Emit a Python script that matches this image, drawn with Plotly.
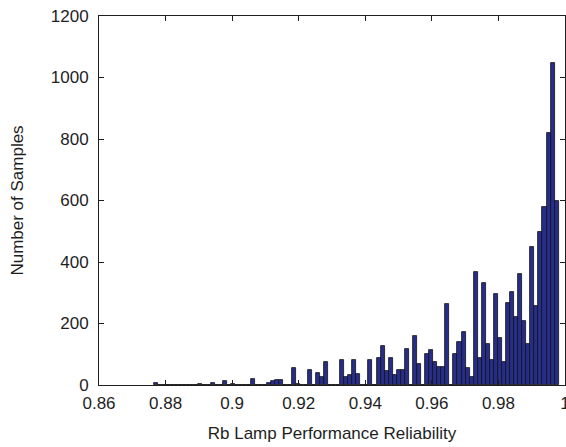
import numpy as np
import plotly.graph_objects as go

# Histogram of reliability samples: 100 equal-width bins between the
# smallest and largest sampled reliability value.
bin_min = 0.8765
bin_max = 0.9981
counts = [
    5, 0, 0, 0, 0, 0, 0, 0, 0, 0,
    0, 2, 0, 0, 5, 0, 0, 13, 0, 2,
    0, 0, 0, 0, 20, 0, 0, 0, 5, 12,
    16, 16, 0, 0, 55, 4, 0, 0, 48, 0,
    40, 26, 75, 0, 0, 0, 80, 26, 32, 80,
    36, 0, 0, 80, 0, 88, 126, 46, 87, 32,
    50, 50, 116, 0, 159, 67, 0, 102, 114, 74,
    60, 57, 263, 0, 102, 141, 171, 56, 27, 369,
    89, 331, 133, 81, 296, 152, 74, 268, 301, 221,
    362, 208, 133, 450, 257, 499, 580, 818, 1046, 600,
]

x_ticks = [0.86, 0.88, 0.9, 0.92, 0.94, 0.96, 0.98, 1.0]
x_tick_text = ["0.86", "0.88", "0.9", "0.92", "0.94", "0.96", "0.98", "1"]
y_ticks = [0, 200, 400, 600, 800, 1000, 1200]

edges = np.linspace(bin_min, bin_max, len(counts) + 1)
centers = (edges[:-1] + edges[1:]) / 2
width = edges[1] - edges[0]

font = "Liberation Sans, Arial, Helvetica, sans-serif"
ink = "#1e1e1e"
fsize = 17

fig = go.Figure(
    go.Bar(
        x=centers,
        y=counts,
        width=width,
        marker=dict(color="#272d8a", line=dict(color="#111111", width=0.8)),
        hoverinfo="x+y",
    )
)

axis_common = dict(
    showline=True,
    linecolor=ink,
    linewidth=1,
    mirror="ticks",
    ticks="inside",
    ticklen=5,
    tickcolor=ink,
    tickwidth=1,
    showgrid=False,
    zeroline=False,
    automargin=False,
    tickfont=dict(family=font, size=fsize, color=ink),
)

fig.update_layout(
    width=566,
    height=447,
    margin=dict(l=99, r=1, t=16, b=62),
    paper_bgcolor="white",
    plot_bgcolor="white",
    showlegend=False,
    bargap=0,
    xaxis=dict(
        range=[0.86, 1.0],
        tickvals=x_ticks,
        ticktext=x_tick_text,
        ticklabeloverflow="allow",
        title=dict(text="Rb Lamp Performance Reliability",
                   font=dict(family=font, size=fsize, color=ink), standoff=14),
        ticklabelstandoff=3,
        **axis_common,
    ),
    yaxis=dict(
        range=[0, 1200],
        tickvals=y_ticks,
        title=dict(text="Number of Samples",
                   font=dict(family=font, size=fsize, color=ink), standoff=22),
        ticklabelstandoff=6,
        **axis_common,
    ),
)

fig.write_html("out.html")
